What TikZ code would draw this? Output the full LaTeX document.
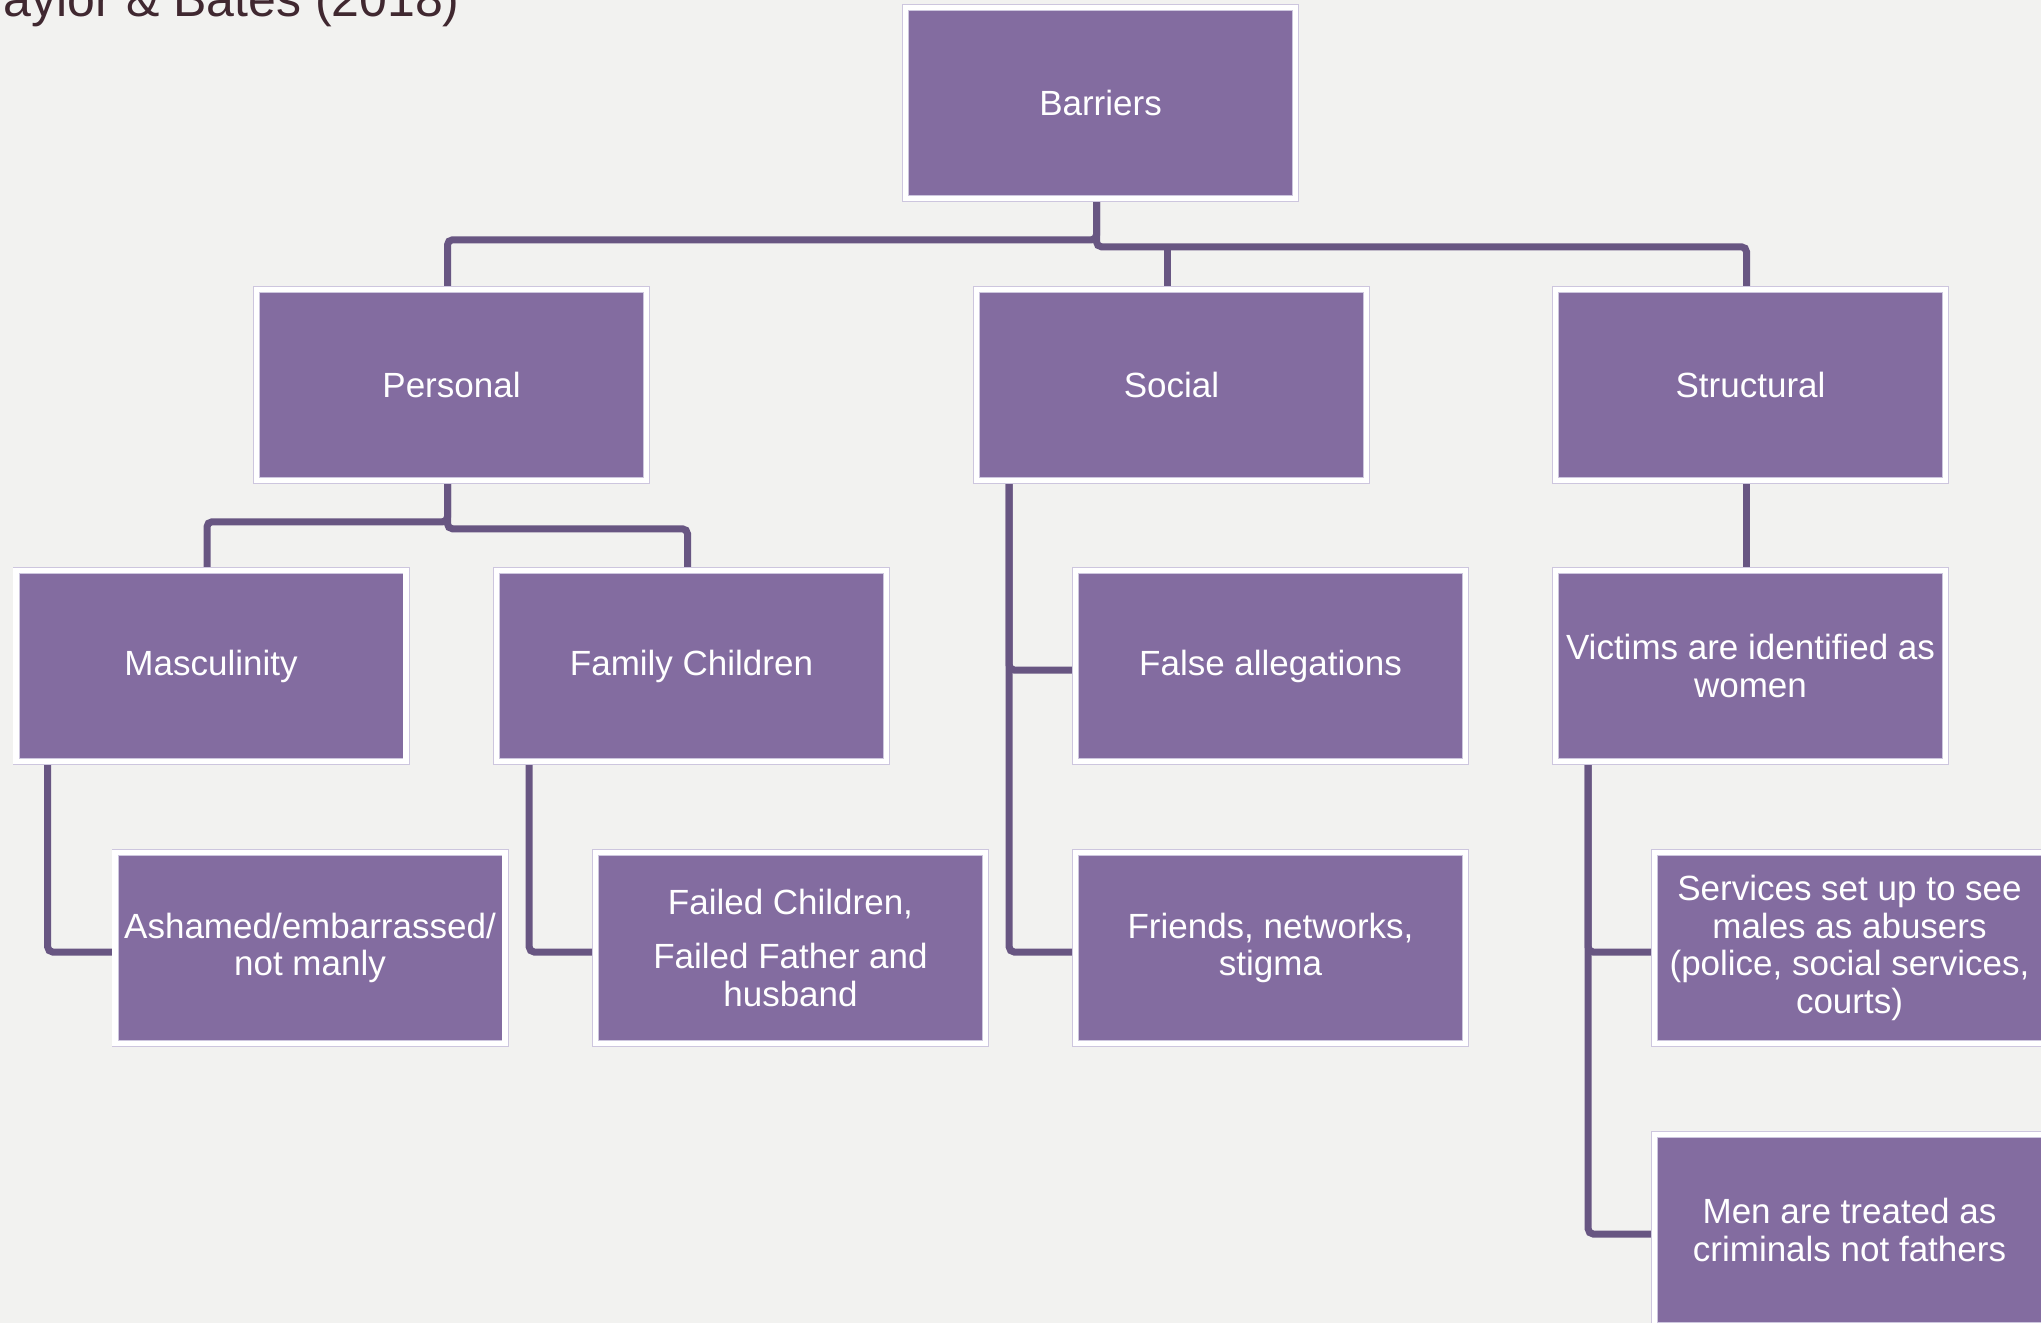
\documentclass[tikz,border=0pt]{standalone}
\usepackage{fontspec}
\setmainfont{Liberation Sans}
\definecolor{bg}{RGB}{242,242,240}
\definecolor{boxfill}{RGB}{131,108,160}
\definecolor{conn}{RGB}{104,86,130}
\definecolor{edgec}{RGB}{205,198,222}
\definecolor{titlec}{RGB}{64,40,48}
\pgfdeclarelayer{bglayer}
\pgfdeclarelayer{lines}
\pgfsetlayers{bglayer,lines,main}
\tikzset{
  sbox/.style={rectangle, fill=boxfill, draw=edgec, double=white, line width=0.3pt,
    double distance=2.9pt, minimum width=195pt, minimum height=95.5pt, inner sep=0pt,
    align=center, text=white, font=\fontsize{17.5}{18.9}\selectfont},
  link/.style={draw=conn, line width=3.5pt, rounded corners=2.5pt},
}
\begin{document}
\begin{tikzpicture}[x=0.5pt,y=-0.5pt]
\begin{pgfonlayer}{bglayer}
\fill[bg] (0,0) rectangle (2041,1323);
\end{pgfonlayer}
\useasboundingbox (0,0) rectangle (2041,1323);

\node[anchor=base east, inner sep=0pt, text=titlec, font=\fontsize{25}{30}\selectfont] (title) at (460,16) {Taylor \& Bates (2018)};

\node[sbox] (barriers) at (1100.5,103) {Barriers};
\node[sbox] (personal) at (451.5,385) {Personal};
\node[sbox] (social) at (1171.5,385) {Social};
\node[sbox] (structural) at (1750.5,385) {Structural};

\node[sbox] (masc) at (211,666) {Masculinity};
\node[sbox] (family) at (691.5,666) {Family Children};
\node[sbox] (falseal) at (1270.5,666) {False allegations};
\node[sbox] (victims) at (1750.5,666) {Victims are identified as\\women};

\node[sbox] (ashamed) at (310,948) {Ashamed/embarrassed/\\not manly};
\node[sbox] (failed) at (790.5,948) {Failed Children,\\[8pt]Failed Father and\\husband};
\node[sbox] (friends) at (1270.5,948) {Friends, networks,\\stigma};
\node[sbox] (services) at (1849.5,948) {Services set up to see\\males as abusers\\(police, social services,\\courts)};
\node[sbox] (men) at (1849.5,1230) {Men are treated as\\criminals not fathers};

\begin{pgfonlayer}{lines}
% level 1
\draw[link] ([xshift=-2pt]barriers.south) -- ++(0,41) -| ([xshift=-2pt]personal.north);
\draw[link] ([xshift=-2pt]barriers.south) -- ++(0,48) -| ([xshift=-2pt]structural.north);
\draw[link] ([xshift=-2.25pt]social.north) -- ++(0,-44);
% personal
\draw[link] ([xshift=-2pt]personal.south) -- ++(0,41) -| ([xshift=-2pt]masc.north);
\draw[link] ([xshift=-2pt]personal.south) -- ++(0,48) -| ([xshift=-2pt]family.north);
% social
\draw[link] ([xshift=16.5pt]social.south west) |- ([yshift=-2pt]friends.west);
\draw[link] ([xshift=16.5pt]social.south west) |- ([yshift=-2pt]falseal.west);
% structural
\draw[link] ([xshift=-2pt]structural.south) -- ([xshift=-2pt]victims.north);
\draw[link] ([xshift=16.5pt]victims.south west) |- ([yshift=-2pt]men.west);
\draw[link] ([xshift=16.5pt]victims.south west) |- ([yshift=-2pt]services.west);
% masculinity / family
\draw[link] ([xshift=16pt]masc.south west) |- ([yshift=-2pt]ashamed.west);
\draw[link] ([xshift=16.5pt]family.south west) |- ([yshift=-2pt]failed.west);
\end{pgfonlayer}
\end{tikzpicture}
\end{document}
